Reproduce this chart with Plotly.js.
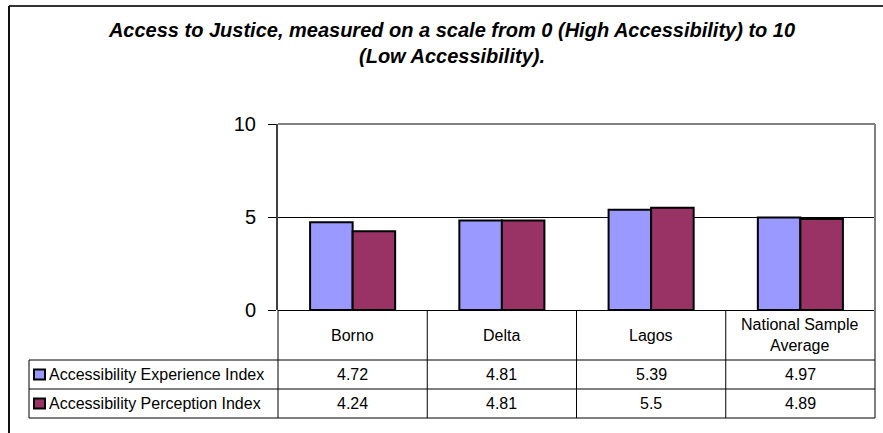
<!DOCTYPE html>
<html><head><meta charset="utf-8">
<script src="https://cdn.plot.ly/plotly-3.0.1.min.js"></script>
<style>html,body{margin:0;padding:0;background:#fff;}</style>
</head><body><div id="chart" style="width:883px;height:433px;"></div>
<script>
// ---- data ----
const categories = ["Borno", "Delta", "Lagos", "National Sample Average"];
const categoryLabels = ["Borno", "Delta", "Lagos", "National Sample<br>Average"];
const seriesNames = ["Accessibility Experience Index", "Accessibility Perception Index"];
const experienceIndex = [4.72, 4.81, 5.39, 4.97];
const perceptionIndex = [4.24, 4.81, 5.5, 4.89];
const yTicks = [0, 5, 10];
const titleText = "Access to Justice, measured on a scale from 0 (High Accessibility) to 10<br>(Low Accessibility).";

// ---- styling / geometry ----
const W = 883, H = 433;
const L = 278, R = 875, T = 124, B = 310;
const colors = ["#9999FF", "#993366"];
const FONT = "Arial, 'Liberation Sans', sans-serif";
const tableLeft = 29, rowLines = [360, 389, 418];
function px(x) { return (x - L) / (R - L); }
function py(y) { return (B - y) / (B - T); }

const seriesData = [experienceIndex, perceptionIndex];
const traces = seriesData.map((vals, i) => ({
  type: "bar",
  name: seriesNames[i],
  x: categories,
  y: vals,
  marker: { color: colors[i], line: { color: "#000", width: 2 } },
  hoverinfo: "skip"
}));

const shapes = [];
const annotations = [];
const line = (x0, y0, x1, y1, color, width) => shapes.push({
  type: "line", xref: "paper", yref: "paper",
  x0: px(x0), y0: py(y0), x1: px(x1), y1: py(y1),
  line: { color: color, width: width }
});

// outer chart frame (cropped on right/bottom)
line(9, 6, W + 20, 6, "#333", 2);
line(9, 6, 9, H + 20, "#111", 2);
// plot area border top/right
line(L, T, R, T, "#808080", 2);
line(R, T, R, rowLines[2], "#808080", 2);
// table horizontal lines
rowLines.forEach(y => line(tableLeft, y, R, y, "#000", 1));
line(tableLeft, rowLines[0], tableLeft, rowLines[2], "#000", 1);
// category column lines
const n = categories.length;
const colW = (R - L) / n;
for (let i = 0; i < n; i++) {
  line(L + i * colW, B, L + i * colW, rowLines[2], "#000", 1);
}
// category header labels
categoryLabels.forEach((lab, i) => annotations.push({
  xref: "paper", yref: "paper", x: px(L + (i + 0.5) * colW), y: py((B + rowLines[0]) / 2),
  text: lab, showarrow: false, xanchor: "center", yanchor: "middle",
  font: { family: FONT, size: 16, color: "#000" }
}));
// table rows
seriesData.forEach((vals, r) => {
  const yc = (rowLines[r] + rowLines[r + 1]) / 2;
  shapes.push({
    type: "rect", xref: "paper", yref: "paper",
    x0: px(34), x1: px(45), y0: py(yc - 5), y1: py(yc + 5),
    fillcolor: colors[r], line: { color: "#000", width: 2 }
  });
  annotations.push({
    xref: "paper", yref: "paper", x: px(47), y: py(yc),
    text: seriesNames[r], showarrow: false, xanchor: "left", yanchor: "middle",
    font: { family: FONT, size: 16, color: "#000" }
  });
  vals.forEach((v, i) => annotations.push({
    xref: "paper", yref: "paper", x: px(L + (i + 0.5) * colW), y: py(yc),
    text: String(v), showarrow: false, xanchor: "center", yanchor: "middle",
    font: { family: FONT, size: 16, color: "#000" }
  }));
});

const layout = {
  width: W, height: H,
  margin: { l: L, r: W - R, t: T, b: H - B, pad: 0 },
  paper_bgcolor: "#fff", plot_bgcolor: "#fff",
  showlegend: false,
  barmode: "group", bargap: 0.43, bargroupgap: 0,
  title: {
    text: "<b><i>" + titleText + "</i></b>",
    font: { family: FONT, size: 20, color: "#000" },
    x: 452 / W, xanchor: "center", xref: "container",
    y: 1 - 37 / H, yanchor: "top", yref: "container"
  },
  xaxis: {
    type: "category", showticklabels: false, ticks: "", showline: false,
    showgrid: false, zeroline: false, fixedrange: true
  },
  yaxis: {
    range: [0, 10], tickvals: yTicks, ticktext: yTicks.map(String),
    ticks: "outside", ticklen: 8, tickcolor: "#000", tickwidth: 1,
    ticklabelstandoff: 8,
    tickfont: { family: FONT, size: 20, color: "#000" },
    showline: true, linecolor: "#404040", linewidth: 2,
    showgrid: true, gridcolor: "#000", gridwidth: 1,
    zeroline: true, zerolinecolor: "#000", zerolinewidth: 1,
    fixedrange: true
  },
  shapes: shapes,
  annotations: annotations
};

Plotly.newPlot("chart", traces, layout, { displayModeBar: false, staticPlot: true });
</script></body></html>
